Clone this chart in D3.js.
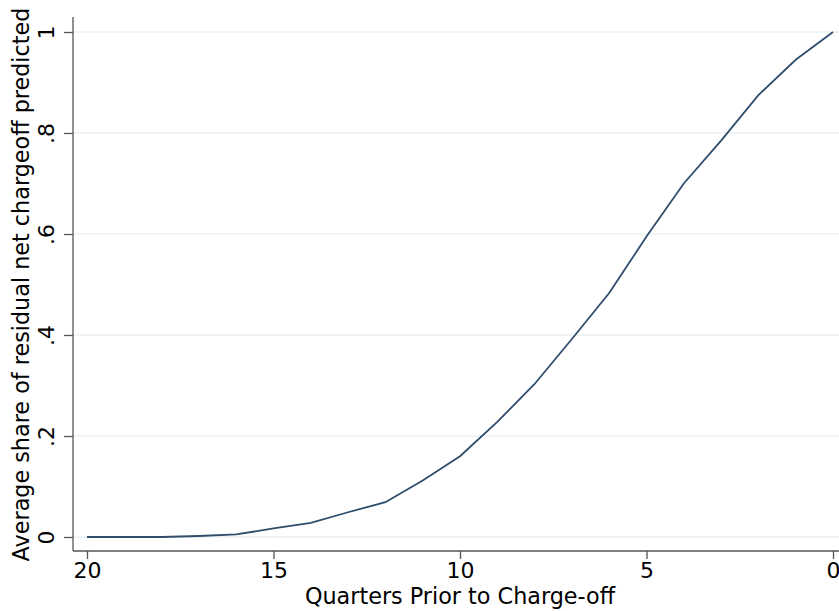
<!DOCTYPE html>
<html>
<head>
<meta charset="utf-8">
<script src="https://cdn.jsdelivr.net/npm/d3@7"></script>
<style>
  body { margin: 0; background: #fff; }
  text { font-family: "DejaVu Sans", sans-serif; fill: #000; }
</style>
</head>
<body>
<div id="container"></div>
<script>
/* DATA */
const quarters = [20, 19, 18, 17, 16, 15, 14, 13, 12, 11, 10, 9, 8, 7, 6, 5, 4, 3, 2, 1, 0];
const share = [0, 0, 0, 0.002, 0.005, 0.017, 0.028, 0.049, 0.069, 0.112, 0.16, 0.228, 0.303, 0.392, 0.483, 0.595, 0.70, 0.785, 0.875, 0.945, 1.0];
const xTicks = [20, 15, 10, 5, 0];
const yTicks = [0, 0.2, 0.4, 0.6, 0.8, 1];
const yTickLabels = ["0", ".2", ".4", ".6", ".8", "1"];
const xTitle = "Quarters Prior to Charge-off";
const yTitle = "Average share of residual net chargeoff predicted";

/* CONSTANTS */
const width = 839;
const height = 611;
const axisX = 73;   // y axis line
const axisY = 551;  // x axis line

const data = quarters.map((q, i) => ({ q: q, v: share[i] }));

const svg = d3.select("#container")
  .append("svg")
  .attr("width", width)
  .attr("height", height)

const xScale = d3.scaleLinear()
  .domain([20, 0])
  .range([87, 833])

const yScale = d3.scaleLinear()
  .domain([0, 1])
  .range([537, 32])

// gridlines
svg.selectAll(".grid")
  .data(yTicks)
  .join("line")
  .attr("class", "grid")
  .attr("x1", axisX)
  .attr("x2", width)
  .attr("y1", d => yScale(d))
  .attr("y2", d => yScale(d))
  .attr("stroke", "#eaf2f3")
  .attr("stroke-width", 1.5)

// x axis
const xAxis = d3.axisBottom(xScale)
  .tickValues(xTicks)
  .tickSize(8)
  .tickPadding(3)
  .tickFormat(d3.format("d"))
const gx = svg.append("g")
  .attr("transform", `translate(0, ${axisY})`)
  .call(xAxis)
gx.select(".domain").remove()
gx.append("line")
  .attr("x1", axisX).attr("x2", width)
  .attr("stroke", "#555").attr("stroke-width", 1.3)
gx.selectAll(".tick line").attr("stroke", "#555").attr("stroke-width", 1.3)
gx.selectAll(".tick text")
  .style("font-size", "22px")
  .style("font-family", "DejaVu Sans, sans-serif")
  .attr("fill", "#000")

// y axis
const yAxis = d3.axisLeft(yScale)
  .tickValues(yTicks)
  .tickSize(9)
  .tickFormat((d, i) => yTickLabels[i])
const gy = svg.append("g")
  .attr("transform", `translate(${axisX}, 0)`)
  .call(yAxis)
gy.select(".domain").remove()
gy.append("line")
  .attr("y1", 17).attr("y2", axisY)
  .attr("stroke", "#555").attr("stroke-width", 1.3)
gy.selectAll(".tick line").attr("stroke", "#555").attr("stroke-width", 1.3)
gy.selectAll(".tick text")
  .attr("x", null).attr("dy", null)
  .attr("text-anchor", "middle")
  .attr("transform", "translate(-19, 0) rotate(-90)")
  .style("font-size", "22px")
  .style("font-family", "DejaVu Sans, sans-serif")
  .attr("fill", "#000")

// titles
svg.append("text")
  .attr("x", 460)
  .attr("y", 604)
  .attr("text-anchor", "middle")
  .style("font-size", "22.3px")
  .text(xTitle)

svg.append("text")
  .attr("transform", `translate(29, ${yScale(0.5)}) rotate(-90)`)
  .attr("text-anchor", "middle")
  .style("font-size", "22.3px")
  .text(yTitle)

// line
const line = d3.line()
  .x(d => xScale(d.q))
  .y(d => yScale(d.v))

svg.append("path")
  .datum(data)
  .attr("fill", "none")
  .attr("stroke", "#2f4d6c")
  .attr("stroke-width", 1.8)
  .attr("d", line)
</script>
</body>
</html>
